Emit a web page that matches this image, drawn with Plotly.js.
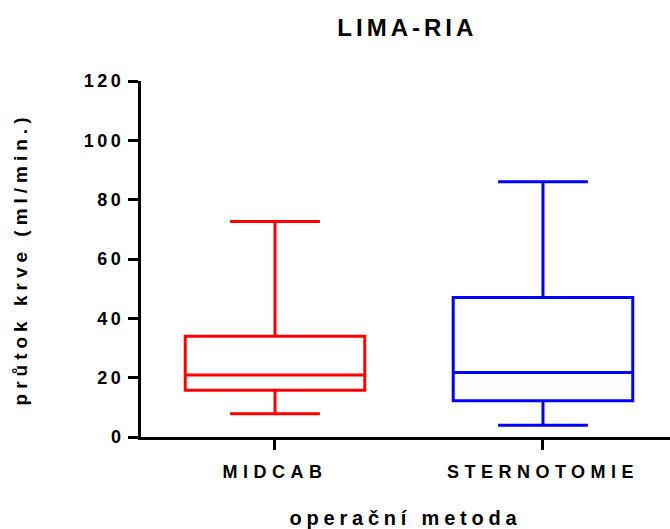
<!DOCTYPE html>
<html>
<head>
<meta charset="utf-8">
<script src="https://cdn.plot.ly/plotly-3.0.1.min.js"></script>
<style>html,body{margin:0;padding:0;background:#fff;}</style>
</head>
<body>
<div id="chart" style="width:670px;height:529px;"></div>
<script>
const categories = ["MIDCAB", "STERNOTOMIE"];
const colors = ["#ff0000", "#0000ff"];
const minVals = [7.8, 4.0];
const q1Vals = [15.8, 12.2];
const medianVals = [20.9, 21.7];
const q3Vals = [34.0, 47.0];
const maxVals = [72.6, 86.0];
const yTicks = [0, 20, 40, 60, 80, 100, 120];

function sp(t, s) { return '<span style="letter-spacing:' + s + 'px">' + t + '</span>'; }

const traces = categories.map((c, i) => ({
  type: 'box',
  x: [c],
  q1: [q1Vals[i]],
  median: [medianVals[i]],
  q3: [q3Vals[i]],
  lowerfence: [minVals[i]],
  upperfence: [maxVals[i]],
  width: 0.67,
  whiskerwidth: 0.5,
  fillcolor: 'rgba(255,255,255,0)',
  line: {color: colors[i], width: 3},
  boxpoints: false,
  hoverinfo: 'skip',
  showlegend: false
}));

const fam = 'Liberation Sans, Arial, sans-serif';

const layout = {
  width: 670, height: 529,
  margin: {l: 141, r: 0, t: 81, b: 92},
  paper_bgcolor: '#fff', plot_bgcolor: '#fff',
  font: {family: fam, color: '#000', size: 14, weight: 'bold'},
  title: {text: sp('LIMA-RIA', 4), x: 0.608, xanchor: 'center', y: 0.947, yanchor: 'middle',
          font: {family: fam, size: 24, color: '#000', weight: 'bold'}},
  xaxis: {
    type: 'category',
    range: [-0.5, 1.474],
    tickmode: 'array', tickvals: categories, ticktext: categories.map(c => sp(c, 5.5)),
    showline: true, linecolor: '#000', linewidth: 3,
    ticks: 'outside', ticklen: 10, tickwidth: 3, tickcolor: '#000',
    ticklabelstandoff: 6,
    showgrid: false, zeroline: false,
    tickfont: {family: fam, size: 18, color: '#000', weight: 'bold'},
    title: {text: sp('operační metoda', 4.8), standoff: 37,
            font: {family: fam, size: 20, color: '#000', weight: 'bold'}}
  },
  yaxis: {
    range: [0, 120],
    tickmode: 'array', tickvals: yTicks, ticktext: yTicks.map(v => sp(String(v), 3.5)),
    showline: true, linecolor: '#000', linewidth: 3,
    ticks: 'outside', ticklen: 10, tickwidth: 3, tickcolor: '#000',
    showgrid: false, zeroline: false,
    tickfont: {family: fam, size: 18, color: '#000', weight: 'bold'},
    title: {text: sp('průtok krve (ml/min.)', 5), standoff: 52,
            font: {family: fam, size: 19, color: '#000', weight: 'bold'}}
  }
};

Plotly.newPlot('chart', traces, layout, {displayModeBar: false, staticPlot: true});
</script>
</body>
</html>
